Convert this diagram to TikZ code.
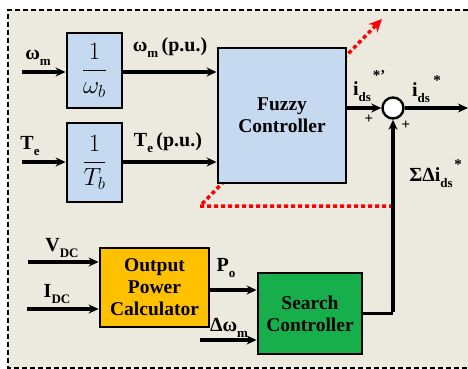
\documentclass[tikz,border=0pt]{standalone}
\usepackage{fontspec}
\usepackage{amsmath}
\setmainfont{Liberation Serif}
\usetikzlibrary{arrows.meta}
\definecolor{bgbeige}{HTML}{ECE9DF}
\definecolor{boxblue}{HTML}{C5D9F1}
\definecolor{boxorange}{HTML}{FFC000}
\definecolor{boxgreen}{HTML}{17AF4B}
\newcommand\mysb[1]{\raisebox{-0.3em}{\fontsize{13}{13}\selectfont #1}}
\tikzset{
  blk/.style={draw=black,line width=2.8pt,align=center,inner sep=0pt,
    font=\fontsize{19.5}{22}\selectfont\bfseries},
  arr/.style={line width=3.2pt,-{Stealth[length=10pt,width=9pt]}},
  ln/.style={line width=2.2pt},
  lbl/.style={font=\fontsize{20}{22}\selectfont\bfseries,inner sep=0pt},
  sgn/.style={font=\fontsize{15}{15}\selectfont\bfseries,inner sep=0pt},
  reddot/.style={red,line width=3.5pt,dash pattern=on 4pt off 3pt}
}
\begin{document}
\begin{tikzpicture}[x=1pt,y=-1pt]
\useasboundingbox (0,0) rectangle (468,369);
\fill[white] (0,0) rectangle (468,369);
\fill[bgbeige] (8,10) rectangle (468,368);
\draw[line width=1.8pt,dash pattern=on 5pt off 3pt] (468,10) -- (8,10) -- (8,368) -- (468,368);

% red dotted path (behind fuzzy box)
\coordinate (ra) at (393,206);
\coordinate (rb) at (200,206);
\coordinate (rc) at (382,19);
\draw[reddot,-{Stealth[length=13pt,width=12pt]}] (ra) -- (rb) -- (rc);

% blocks
\node[blk,fill=boxblue,minimum width=55pt,minimum height=75pt] (b1) at (94.5,70.5)
  {\fontsize{23}{26}\selectfont$\dfrac{1}{\omega_{b}}$};
\node[blk,fill=boxblue,minimum width=55pt,minimum height=79pt] (b2) at (94.5,162.5)
  {\fontsize{23}{26}\selectfont$\dfrac{1}{T_{b}}$};
\node[blk,fill=boxblue,minimum width=128pt,minimum height=135pt] (fz) at (282,115.5)
  {Fuzzy\\Controller};
\node[blk,fill=boxorange,minimum width=109pt,minimum height=79pt] (opc) at (154.5,287.5)
  {Output\\Power\\Calculator};
\node[blk,fill=boxgreen,minimum width=104pt,minimum height=81pt] (sc) at (310,313.5)
  {Search\\Controller};
\node[draw=black,line width=2.4pt,fill=white,circle,minimum size=21pt,inner sep=0pt] (sum) at (393,108) {};

% coordinates
\coordinate (wmin) at (22,72);
\coordinate (tein) at (22,162);
\coordinate (vin) at (28,262);
\coordinate (iin) at (27,309);
\coordinate (poy) at (0,290);
\coordinate (dwin) at (200,340);
\coordinate (out) at (468,108);

% connectors
\draw[arr] (wmin) -- (wmin -| b1.west);
\draw[arr] (wmin -| b1.east) -- (wmin -| fz.west);
\draw[arr] (tein) -- (tein -| b2.west);
\draw[arr] (tein -| b2.east) -- (tein -| fz.west);
\draw[arr] (sum -| fz.east) -- (sum.west);
\draw[arr] (sum.east) -- (out);
\draw[ln] (sc.east) -- (sc.east -| sum);
\draw[arr] ([yshift=1.1pt]sc.east -| sum) -- (sum.south);
\draw[arr] (vin) -- (vin -| opc.west);
\draw[arr] (iin) -- (iin -| opc.west);
\draw[arr] (opc.east |- poy) -- (sc.west |- poy);
\draw[arr] (dwin) -- (dwin -| sc.west);

% labels
\node[lbl] (lwm) at (38,58) {ω\mysb{m}};
\node[lbl] (lwmpu) at (170,48) {ω\mysb{m}\,(p.u.)};
\node[lbl] (lte) at (30,146) {T\mysb{e}};
\node[lbl] (ltepu) at (168,143) {T\mysb{e}\,(p.u.)};
\node[lbl] (lids1) at (362,92) {i\mysb{ds}};
\node[sgn] (lids1s) at (379,76) {*'};
\node[sgn] (p1) at (369,119) {+};
\node[sgn] (p2) at (406,125) {+};
\node[lbl] (lids2) at (421,93) {i\mysb{ds}};
\node[sgn] (lids2s) at (437,81) {*};
\node[lbl] (lsum) at (431,178) {ΣΔi\mysb{ds}};
\node[sgn] (lsums) at (458,165) {*};
\node[lbl] (lvdc) at (62,248) {V\mysb{DC}};
\node[lbl] (lidc) at (57,294) {I\mysb{DC}};
\node[lbl] (lpo) at (226,268) {P\mysb{o}};
\node[lbl] (ldw) at (229,328) {Δω\mysb{m}};
\end{tikzpicture}
\end{document}
